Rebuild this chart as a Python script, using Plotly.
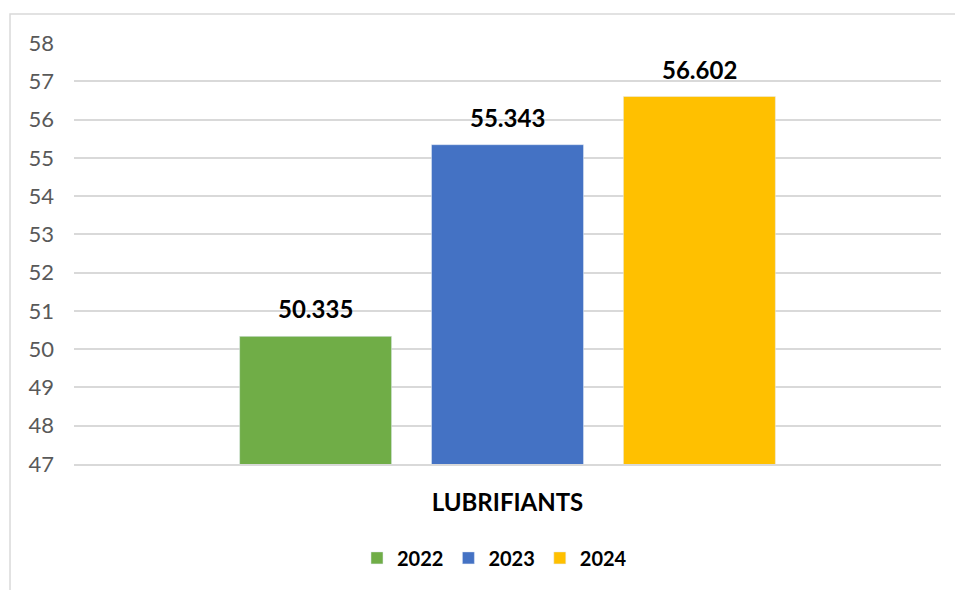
import plotly.graph_objects as go

categories = ["LUBRIFIANTS"]
years = ["2022", "2023", "2024"]
values_2022 = [50.335]
values_2023 = [55.343]
values_2024 = [56.602]
colors = ["#70AD47", "#4472C4", "#FFC000"]
y_ticks = list(range(47, 59))

series = [values_2022, values_2023, values_2024]
FONT = "Lato, Calibri, sans-serif"

fig = go.Figure()
for name, vals, col in zip(years, series, colors):
    fig.add_trace(go.Bar(name=name, x=categories, y=vals, marker_color=col))

# data labels as annotations above each bar
slot_px = 192
for i, (vals, name) in enumerate(zip(series, years)):
    for c, v in zip(categories, vals):
        fig.add_annotation(x=c, y=v, text=f"<b>{v:.3f}</b>", showarrow=False,
                           xshift=(i - 1) * slot_px, yshift=11, yanchor="bottom",
                           font=dict(family=FONT, size=24, color="#000000"))

fig.update_layout(
    width=955, height=590,
    margin=dict(l=74, r=14, t=43, b=126),
    paper_bgcolor="white", plot_bgcolor="white",
    barmode="group", bargap=0.336, bargroupgap=0.208,
    font=dict(family=FONT, color="#595959"),
    showlegend=True,
    legend=dict(orientation="h", x=0.485, xanchor="center", y=-0.223, yanchor="middle",
                font=dict(family=FONT, size=20, color="#000000", weight="bold"),
                itemwidth=30, traceorder="normal"),
    shapes=[dict(type="rect", xref="paper", yref="paper",
                 x0=-0.0738, x1=1.5, y0=-1.0, y1=1.0689,
                 line=dict(color="#D9D9D9", width=1.5), fillcolor="rgba(0,0,0,0)", layer="below")],
)
fig.update_yaxes(range=[47, 58], tickvals=y_ticks, showgrid=True, gridcolor="#D9D9D9",
                 gridwidth=1.5, zeroline=False, showline=False, ticks="",
                 tickfont=dict(family=FONT, size=22, color="#595959"), ticklabelstandoff=19)
fig.update_xaxes(showline=True, linecolor="#D9D9D9", linewidth=1.5, ticks="",
                 tickfont=dict(family=FONT, size=24, color="#000000"),
                 tickvals=categories, ticktext=[f"<b>{c}</b>" for c in categories],
                 ticklabelstandoff=16)

fig.write_html("out.html")
